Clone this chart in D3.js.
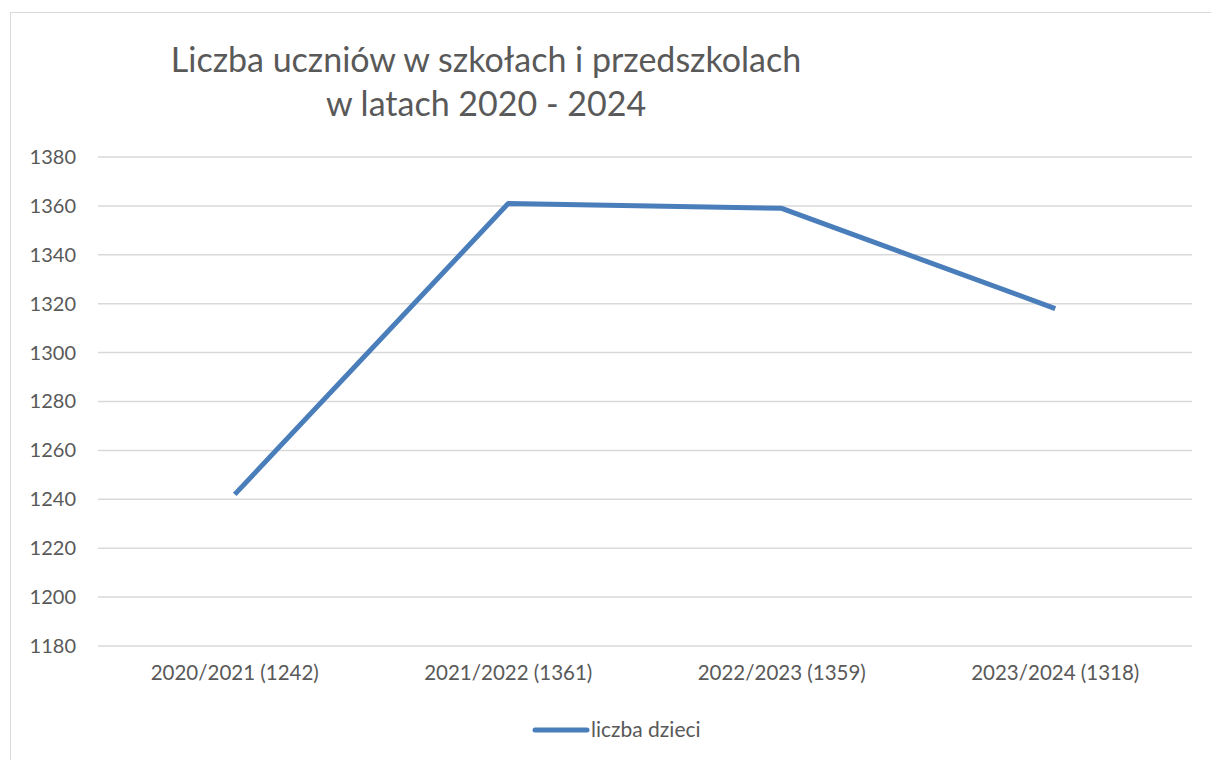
<!DOCTYPE html>
<html>
<head>
<meta charset="utf-8">
<script src="https://cdn.jsdelivr.net/npm/d3@7"></script>
<style>
  body { margin: 0; background: #fff; }
  text { font-family: Lato, "Open Sans", sans-serif; fill: #595959; }
</style>
</head>
<body>
<div id="chart"></div>
<script>
// Data
const categories = ["2020/2021 (1242)", "2021/2022 (1361)", "2022/2023 (1359)", "2023/2024 (1318)"];
const values = [1242, 1361, 1359, 1318];
const yTicks = [1180, 1200, 1220, 1240, 1260, 1280, 1300, 1320, 1340, 1360, 1380];
const seriesName = "liczba dzieci";
const titleLines = ["Liczba uczniów w szkołach i przedszkolach", "w latach 2020 - 2024"];

const width = 1211, height = 760;
const margin = { top: 157, right: 19, bottom: 114, left: 98 };
const lineColor = "#4a7ebb";

const svg = d3.select("#chart")
    .append("svg")
    .attr("width", width)
    .attr("height", height);

// Chart border
svg.append("rect")
    .attr("x", 10.5)
    .attr("y", 12.5)
    .attr("width", 1210)
    .attr("height", 760)
    .attr("fill", "none")
    .attr("stroke", "#d9d9d9")
    .attr("stroke-width", 1);

// Scales
const x = d3.scaleBand()
    .domain(categories)
    .range([margin.left, width - margin.right]);

const y = d3.scaleLinear()
    .domain([1180, 1380])
    .range([height - margin.bottom, margin.top]);

// Gridlines
svg.append("g")
    .selectAll("line")
    .data(yTicks)
    .join("line")
    .attr("x1", margin.left)
    .attr("x2", width - margin.right)
    .attr("y1", d => y(d))
    .attr("y2", d => y(d))
    .attr("stroke", "#d9d9d9")
    .attr("stroke-width", 1.5);

// Y axis
const yAxis = svg.append("g")
    .attr("transform", `translate(${margin.left},0)`)
    .call(d3.axisLeft(y).tickValues(yTicks).tickSize(0).tickPadding(22).tickFormat(d3.format("d")));
yAxis.select(".domain").remove();
yAxis.selectAll("text")
    .style("font-size", "20px")
    .attr("fill", "#595959");

// X axis
const xAxis = svg.append("g")
    .attr("transform", `translate(0,${height - margin.bottom})`)
    .call(d3.axisBottom(x).tickSize(0).tickPadding(19));
xAxis.select(".domain").remove();
xAxis.selectAll("text")
    .style("font-size", "20.5px")
    .attr("fill", "#595959");

// Line
const line = d3.line()
    .x((d, i) => x(categories[i]) + x.bandwidth() / 2)
    .y(d => y(d));

svg.append("path")
    .datum(values)
    .attr("d", line)
    .attr("fill", "none")
    .attr("stroke", lineColor)
    .attr("stroke-width", 5)
    .attr("stroke-linejoin", "round");

// Title
svg.append("g")
    .selectAll("text")
    .data(titleLines)
    .join("text")
    .attr("x", 486)
    .attr("y", (d, i) => 72 + i * 44)
    .attr("text-anchor", "middle")
    .style("font-size", "34px")
    .text(d => d);

// Legend
const legend = svg.append("g");
legend.append("line")
    .attr("x1", 535)
    .attr("x2", 587)
    .attr("y1", 730)
    .attr("y2", 730)
    .attr("stroke", lineColor)
    .attr("stroke-width", 5)
    .attr("stroke-linecap", "round");
legend.append("text")
    .attr("x", 591)
    .attr("y", 737)
    .style("font-size", "21px")
    .text(seriesName);
</script>
</body>
</html>
